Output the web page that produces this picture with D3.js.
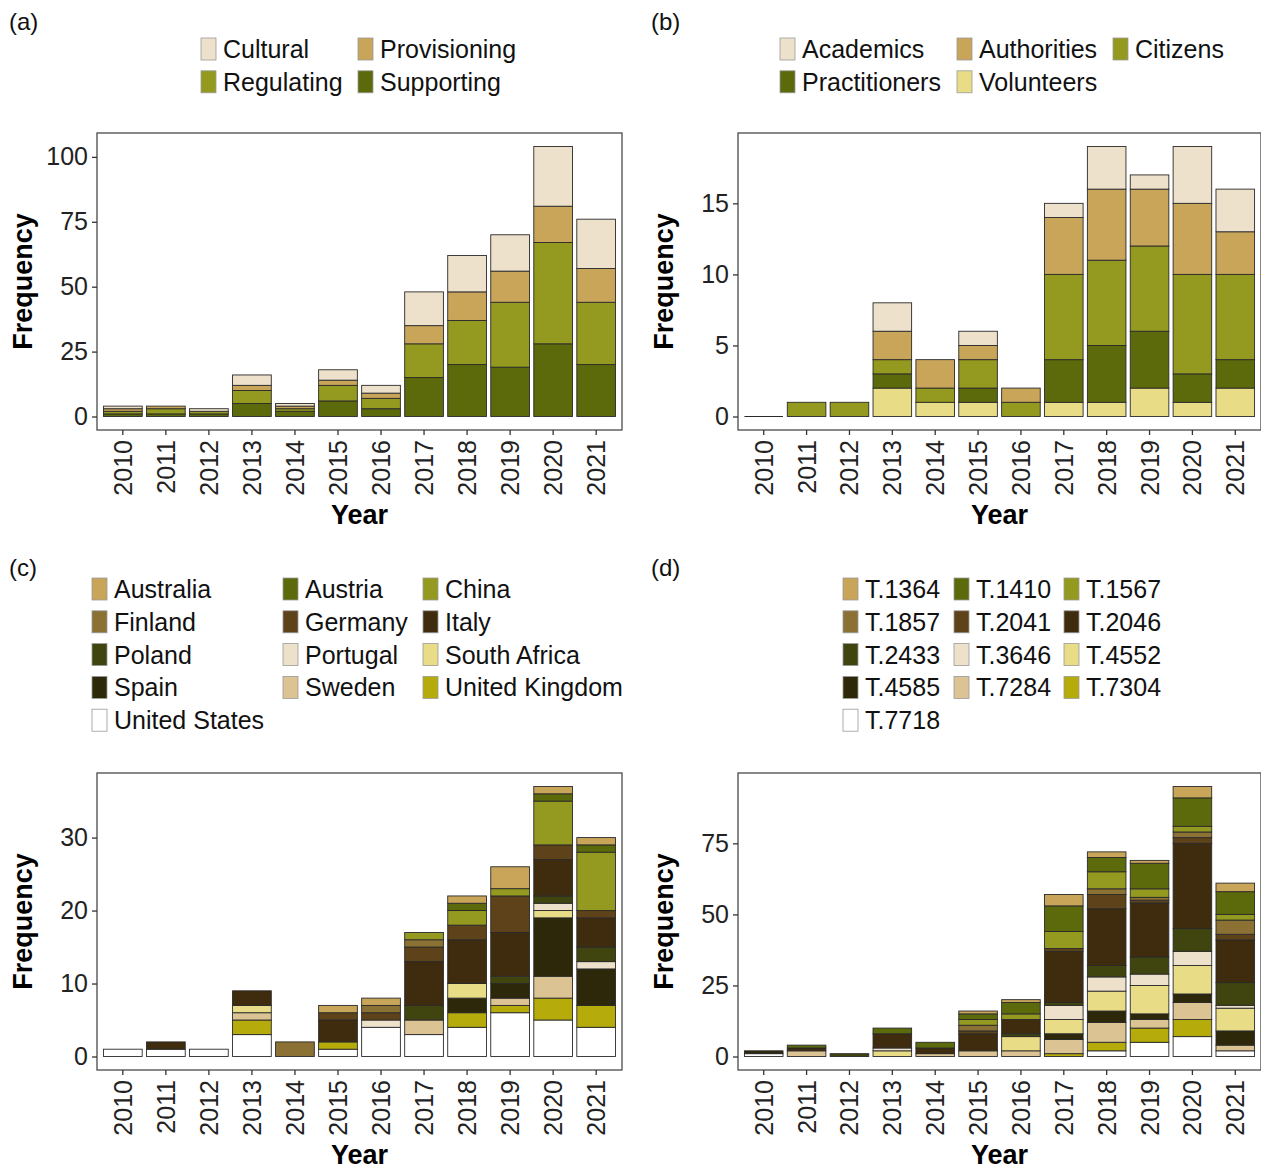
<!DOCTYPE html>
<html>
<head>
<meta charset="utf-8">
<script src="https://cdn.jsdelivr.net/npm/d3@7"></script>
<style>
  body { margin: 0; background: #fff; }
  svg { display: block; }
  text { font-family: "Liberation Sans", Arial, sans-serif; }
</style>
</head>
<body>
<svg id="chart" width="1261" height="1170"></svg>
<script>
// ---- data ----
var years = [2010, 2011, 2012, 2013, 2014, 2015, 2016, 2017, 2018, 2019, 2020, 2021];

// (a) ecosystem service types
var serviceTypes = ["Cultural", "Provisioning", "Regulating", "Supporting"];
var cultural     = [1, 0, 1, 4, 1, 4, 3, 13, 14, 14, 23, 19];
var provisioning = [1, 1, 0, 2, 1, 2, 2, 7, 11, 12, 14, 13];
var regulating   = [1, 2, 1, 5, 1, 6, 4, 13, 17, 25, 39, 24];
var supporting   = [1, 1, 1, 5, 2, 6, 3, 15, 20, 19, 28, 20];

// (b) actors
var actorTypes    = ["Academics", "Authorities", "Citizens", "Practitioners", "Volunteers"];
var academics     = [0, 0, 0, 2, 0, 1, 0, 1, 3, 1, 4, 3];
var authorities   = [0, 0, 0, 2, 2, 1, 1, 4, 5, 4, 5, 3];
var citizens      = [0, 1, 1, 1, 1, 2, 1, 6, 6, 6, 7, 6];
var practitioners = [0, 0, 0, 1, 0, 1, 0, 3, 4, 4, 2, 2];
var volunteers    = [0, 0, 0, 2, 1, 1, 0, 1, 1, 2, 1, 2];

// (c) countries
var countries = ["Australia", "Austria", "China", "Finland", "Germany", "Italy", "Poland",
                 "Portugal", "South Africa", "Spain", "Sweden", "United Kingdom", "United States"];
var australia    = [0, 0, 0, 0, 0, 1, 1, 0, 1, 3, 1, 1];
var austria      = [0, 0, 0, 0, 0, 0, 0, 0, 1, 0, 1, 1];
var china        = [0, 0, 0, 0, 0, 0, 0, 1, 2, 1, 6, 8];
var finland      = [0, 0, 0, 0, 2, 0, 1, 1, 0, 0, 0, 0];
var germany      = [0, 0, 0, 0, 0, 1, 1, 2, 2, 5, 2, 1];
var italy        = [0, 1, 0, 2, 0, 3, 0, 6, 6, 6, 5, 4];
var poland       = [0, 0, 0, 0, 0, 0, 0, 2, 0, 1, 1, 2];
var portugal     = [0, 0, 0, 0, 0, 0, 1, 0, 0, 0, 1, 1];
var southAfrica  = [0, 0, 0, 1, 0, 0, 0, 0, 2, 0, 1, 0];
var spain        = [0, 0, 0, 0, 0, 0, 0, 0, 2, 2, 8, 5];
var sweden       = [0, 0, 0, 1, 0, 0, 0, 2, 0, 1, 3, 0];
var unitedKingdom= [0, 0, 0, 2, 0, 1, 0, 0, 2, 1, 3, 3];
var unitedStates = [1, 1, 1, 3, 0, 1, 4, 3, 4, 6, 5, 4];

// (d) topics
var topics = ["T.1364", "T.1410", "T.1567", "T.1857", "T.2041", "T.2046", "T.2433",
              "T.3646", "T.4552", "T.4585", "T.7284", "T.7304", "T.7718"];
var t1364 = [0, 0, 0, 0, 0, 1, 1, 4, 2, 1, 4, 3];
var t1410 = [0, 1, 0, 2, 2, 2, 4, 9, 5, 9, 10, 8];
var t1567 = [0, 0, 0, 0, 0, 2, 2, 6, 6, 3, 2, 2];
var t1857 = [0, 0, 0, 0, 0, 2, 0, 0, 2, 1, 2, 5];
var t2041 = [0, 0, 0, 0, 0, 1, 0, 1, 5, 1, 2, 2];
var t2046 = [0, 1, 0, 5, 2, 6, 5, 18, 20, 19, 30, 15];
var t2433 = [0, 0, 1, 0, 0, 0, 1, 1, 4, 6, 8, 8];
var t3646 = [0, 0, 0, 1, 0, 0, 0, 5, 5, 4, 5, 1];
var t4552 = [0, 0, 0, 2, 0, 0, 5, 5, 7, 10, 10, 8];
var t4585 = [1, 0, 0, 0, 0, 0, 0, 2, 4, 2, 3, 5];
var t7284 = [0, 2, 0, 0, 1, 2, 2, 5, 7, 3, 6, 2];
var t7304 = [0, 0, 0, 0, 0, 0, 0, 1, 3, 5, 6, 0];
var t7718 = [1, 0, 0, 0, 0, 0, 0, 0, 2, 5, 7, 2];

// colours (legend order)
var colours13 = ["#c9a55a", "#5d6a0b", "#94991f", "#8b7134", "#5e4219", "#3f2b0e", "#404510",
                 "#ede1cb", "#e8dc86", "#2e280b", "#dcc393", "#b5ab0b", "#ffffff"];
var coloursA = ["#ede1cb", "#c9a55a", "#94991f", "#5d6a0b"];
var coloursB = ["#ede1cb", "#c9a55a", "#94991f", "#5d6a0b", "#e8dc86"];

var svg = d3.select("#chart");

function drawPanel(p) {
  var g = svg.append("g");

  // rows for d3.stack
  var rows = years.map(function(yr, i) {
    var r = { year: yr };
    p.names.forEach(function(n, k) { r[n] = p.values[k][i]; });
    return r;
  });
  var totals = rows.map(function(r) { return d3.sum(p.names, function(n) { return r[n]; }); });
  var maxV = d3.max(totals);

  var x = d3.scaleBand().domain(years).range([p.left, p.right])
    .paddingInner(0.1).paddingOuter(0.15);
  var y = d3.scaleLinear().domain([-0.05 * maxV, 1.05 * maxV]).range([p.bottom, p.top]);

  // first legend entry sits on top of the stack
  var keysBottomUp = p.names.slice().reverse();
  var series = d3.stack().keys(keysBottomUp)(rows);
  var colour = d3.scaleOrdinal().domain(p.names).range(p.colours);

  g.selectAll("g.layer")
    .data(series)
    .enter().append("g")
      .attr("class", "layer")
      .attr("fill", function(d) { return colour(d.key); })
    .selectAll("rect")
    .data(function(d) { return d.filter(function(v) { return v[1] > v[0]; }); })
    .enter().append("rect")
      .attr("x", function(d) { return x(d.data.year); })
      .attr("y", function(d) { return y(d[1]); })
      .attr("width", x.bandwidth())
      .attr("height", function(d) { return y(d[0]) - y(d[1]); })
      .attr("stroke", "#2a2a2a")
      .attr("stroke-width", 0.9);

  // empty years still show a flat bar
  g.selectAll("line.zero")
    .data(years.filter(function(yr, i) { return totals[i] === 0; }))
    .enter().append("line")
      .attr("x1", function(d) { return x(d); })
      .attr("x2", function(d) { return x(d) + x.bandwidth(); })
      .attr("y1", y(0)).attr("y2", y(0))
      .attr("stroke", "#2a2a2a").attr("stroke-width", 1);

  // panel border
  g.append("rect")
    .attr("x", p.left).attr("y", p.top)
    .attr("width", p.right - p.left).attr("height", p.bottom - p.top)
    .attr("fill", "none").attr("stroke", "#4a4a4a").attr("stroke-width", 1.3);

  // y axis
  var ya = g.append("g")
    .attr("transform", "translate(" + p.left + ",0)")
    .call(d3.axisLeft(y).tickValues(p.ticks).tickSize(5).tickPadding(4));
  ya.select(".domain").remove();
  ya.selectAll("line").attr("stroke", "#333").attr("stroke-width", 1.3);
  ya.selectAll("text").style("font-size", "25px").attr("fill", "#222");

  // x axis
  var xa = g.append("g")
    .attr("transform", "translate(0," + p.bottom + ")")
    .call(d3.axisBottom(x).tickSize(5));
  xa.select(".domain").remove();
  xa.selectAll("line").attr("stroke", "#333").attr("stroke-width", 1.3);
  xa.selectAll("text")
    .style("font-size", "25px").attr("fill", "#222")
    .attr("transform", "rotate(-90)")
    .attr("text-anchor", "end")
    .attr("x", -10).attr("y", 0).attr("dy", "0.36em");

  // axis titles
  g.append("text")
    .attr("x", (p.left + p.right) / 2).attr("y", p.bottom + 94)
    .attr("text-anchor", "middle")
    .style("font-size", "27px").style("font-weight", "bold")
    .text("Year");
  g.append("text")
    .attr("transform", "translate(" + (p.left - 65) + "," + ((p.top + p.bottom) / 2) + ") rotate(-90)")
    .attr("text-anchor", "middle")
    .style("font-size", "27px").style("font-weight", "bold")
    .text("Frequency");

  // panel tag
  g.append("text")
    .attr("x", p.tagX).attr("y", p.tagY)
    .style("font-size", "24px").attr("fill", "#111")
    .text(p.tag);

  // legend, filled row by row
  var leg = g.selectAll("g.key")
    .data(p.names)
    .enter().append("g")
      .attr("class", "key")
      .attr("transform", function(d, i) {
        var col = i % p.legendCols.length, row = Math.floor(i / p.legendCols.length);
        return "translate(" + p.legendCols[col] + "," + (p.legendTop + row * 32.8) + ")";
      });
  leg.append("rect")
    .attr("x", 0).attr("y", -11).attr("width", 15).attr("height", 22)
    .attr("fill", function(d) { return colour(d); })
    .attr("stroke", "#9a9a9a").attr("stroke-width", 0.8);
  leg.append("text")
    .attr("x", 22).attr("y", 9)
    .style("font-size", "25px").attr("fill", "#111")
    .text(function(d) { return d; });
}

drawPanel({
  tag: "(a)", tagX: 9, tagY: 30,
  names: serviceTypes, values: [cultural, provisioning, regulating, supporting],
  colours: coloursA, ticks: [0, 25, 50, 75, 100],
  left: 97, right: 622, top: 133, bottom: 430,
  legendCols: [201, 358], legendTop: 49
});

drawPanel({
  tag: "(b)", tagX: 651, tagY: 30,
  names: actorTypes, values: [academics, authorities, citizens, practitioners, volunteers],
  colours: coloursB, ticks: [0, 5, 10, 15],
  left: 738, right: 1261, top: 133, bottom: 430,
  legendCols: [780, 957, 1113], legendTop: 49
});

drawPanel({
  tag: "(c)", tagX: 9, tagY: 576,
  names: countries,
  values: [australia, austria, china, finland, germany, italy, poland, portugal,
           southAfrica, spain, sweden, unitedKingdom, unitedStates],
  colours: colours13, ticks: [0, 10, 20, 30],
  left: 97, right: 622, top: 773, bottom: 1070,
  legendCols: [92, 283, 423], legendTop: 589
});

drawPanel({
  tag: "(d)", tagX: 651, tagY: 576,
  names: topics,
  values: [t1364, t1410, t1567, t1857, t2041, t2046, t2433, t3646, t4552, t4585, t7284, t7304, t7718],
  colours: colours13, ticks: [0, 25, 50, 75],
  left: 738, right: 1261, top: 773, bottom: 1070,
  legendCols: [843, 954, 1064], legendTop: 589
});
</script>
</body>
</html>
